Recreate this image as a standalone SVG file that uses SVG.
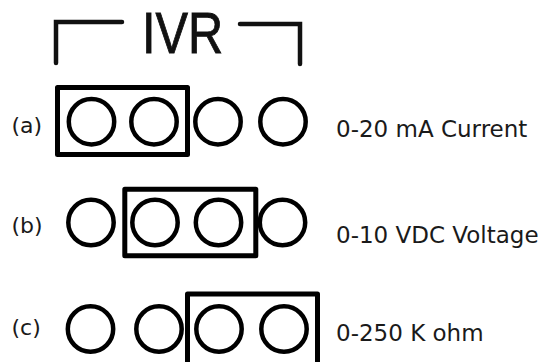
<svg xmlns="http://www.w3.org/2000/svg" width="545" height="362" viewBox="0 0 545 362">
  <style>
    .pin { fill: none; stroke: #000; stroke-width: 4.5; }
    .jumper { fill: none; stroke: #000; stroke-width: 5; stroke-linejoin: round; }
    .bracket { fill: none; stroke: #111; stroke-width: 4.5; stroke-linecap: round; stroke-linejoin: miter; }
    .tag { font-family: "DejaVu Sans", "Liberation Sans", sans-serif; font-size: 22px; fill: #1a1a1a; }
    .desc { font-family: "DejaVu Sans", "Liberation Sans", sans-serif; font-size: 23px; fill: #1a1a1a; }
    .title { font-family: "Liberation Sans", "DejaVu Sans", sans-serif; font-size: 58px; fill: #111; stroke: #111; stroke-width: 0.9; }
  </style>
  <rect width="545" height="362" fill="#fff"/>

  <g id="title">
    <text class="title" transform="translate(142,53) scale(0.84,1)" x="0" y="0">IVR</text>
    <path class="bracket" d="M56,63 V22 H122"/>
    <path class="bracket" d="M240,24 H300 V64"/>
  </g>

  <g id="row-a">
    <text class="tag" x="11.5" y="132.5">(a)</text>
    <circle class="pin" cx="91.5" cy="121.7" r="22.7"/>
    <circle class="pin" cx="154" cy="121.7" r="22.7"/>
    <circle class="pin" cx="218" cy="121.7" r="22.7"/>
    <circle class="pin" cx="283" cy="121.7" r="22.7"/>
    <rect class="jumper" x="57.5" y="87.5" width="130" height="67"/>
    <text class="desc" x="336" y="136.5">0-20 mA Current</text>
  </g>

  <g id="row-b">
    <text class="tag" x="11.5" y="232.5">(b)</text>
    <circle class="pin" cx="91" cy="222.5" r="22.7"/>
    <circle class="pin" cx="155" cy="222.5" r="22.7"/>
    <circle class="pin" cx="218.5" cy="222.5" r="22.7"/>
    <circle class="pin" cx="282.5" cy="222.5" r="22.7"/>
    <rect class="jumper" x="124.8" y="189.2" width="131" height="66.6"/>
    <text class="desc" x="336" y="243">0-10 VDC Voltage</text>
  </g>

  <g id="row-c">
    <text class="tag" x="11.5" y="335">(c)</text>
    <circle class="pin" cx="90.5" cy="329" r="22.7"/>
    <circle class="pin" cx="159" cy="329" r="22.7"/>
    <circle class="pin" cx="219" cy="329" r="22.7"/>
    <circle class="pin" cx="284" cy="329" r="22.7"/>
    <rect class="jumper" x="187.5" y="294" width="130" height="80"/>
    <text class="desc" x="336" y="341">0-250 K ohm</text>
  </g>

  <g id="connectors"></g>
</svg>
